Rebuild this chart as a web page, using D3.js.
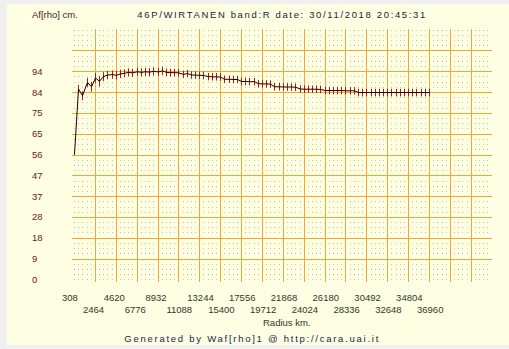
<!DOCTYPE html>
<html>
<head>
<meta charset="utf-8">
<script src="https://cdn.jsdelivr.net/npm/d3@7"></script>
<style>
  body { margin: 0; background: #f0f0f0; }
  svg { display: block; }
</style>
</head>
<body>
<svg id="chart" width="509" height="349"></svg>
<script>
// radius (km) of each aperture
const radius = [
  308, 739, 1170, 1602, 2033, 2464, 2895, 3326, 3758, 4189,
  4620, 5051, 5482, 5914, 6345, 6776, 7207, 7638, 8070, 8501,
  8932, 9363, 9794, 10226, 10657, 11088, 11519, 11950, 12382, 12813,
  13244, 13675, 14106, 14538, 14969, 15400, 15831, 16262, 16694, 17125,
  17556, 17987, 18418, 18850, 19281, 19712, 20143, 20574, 21006, 21437,
  21868, 22299, 22730, 23162, 23593, 24024, 24455, 24886, 25318, 25749,
  26180, 26611, 27042, 27474, 27905, 28336, 28767, 29198, 29630, 30061,
  30492, 30923, 31354, 31786, 32217, 32648, 33079, 33510, 33942, 34373,
  34804, 35235, 35666, 36098, 36529, 36960
];
// Af[rho] in cm
const afrho = [
  56.5, 86.0, 83.0, 89.0, 87.0, 91.0, 89.5, 91.6, 92.3, 92.5,
  92.2, 92.8, 93.1, 93.5, 93.3, 93.8, 93.5, 93.8, 93.6, 94.0,
  93.7, 94.2, 93.5, 93.4, 93.4, 93.3, 92.6, 93.0, 92.3, 92.3,
  92.2, 92.1, 91.6, 91.5, 91.5, 91.4, 90.4, 90.4, 90.3, 90.3,
  89.4, 89.4, 89.3, 89.3, 88.4, 88.3, 88.3, 88.2, 87.0, 87.0,
  86.9, 86.9, 86.9, 86.8, 86.0, 85.9, 85.9, 85.9, 85.9, 85.8,
  85.3, 85.3, 85.3, 85.3, 85.3, 85.2, 85.2, 85.2, 84.4, 84.4,
  84.4, 84.4, 84.4, 84.4, 84.4, 84.4, 84.4, 84.4, 84.4, 84.4,
  84.4, 84.4, 84.4, 84.4, 84.4, 84.4
];
// half length of error bars
const err = [
  0.4, 1.8, 2.0, 2.0, 2.2, 2.3, 2.4, 2.0, 1.9, 1.9,
  1.9, 1.9, 1.8, 1.8, 1.8, 1.8, 1.8, 1.8, 1.8, 1.8,
  1.8, 1.8, 1.7, 1.7, 1.7, 1.7, 1.7, 1.7, 1.7, 1.7,
  1.7, 1.7, 1.7, 1.7, 1.7, 1.7, 1.7, 1.7, 1.7, 1.7,
  1.7, 1.7, 1.7, 1.7, 1.7, 1.7, 1.7, 1.7, 1.7, 1.7,
  1.7, 1.7, 1.7, 1.7, 1.7, 1.7, 1.7, 1.7, 1.7, 1.7,
  1.7, 1.7, 1.7, 1.7, 1.7, 1.7, 1.7, 1.7, 1.7, 1.7,
  1.7, 1.7, 1.7, 1.7, 1.7, 1.7, 1.7, 1.7, 1.7, 1.7,
  1.7, 1.7, 1.7, 1.7, 1.7, 1.7
];

const xTicks = [308, 2464, 4620, 6776, 8932, 11088, 13244, 15400, 17556,
  19712, 21868, 24024, 26180, 28336, 30492, 32648, 34804, 36960];
const xGrid = [2464, 4620, 6776, 8932, 11088, 13244, 15400, 17556, 19712,
  21868, 24024, 26180, 28336, 30492, 32648, 34804, 36960, 39116, 41272];
const yTicks = [0, 9.4, 18.8, 28.2, 37.6, 47, 56.4, 65.8, 75.2, 84.6, 94];
const yTickLabels = ["0", "9", "18", "28", "37", "47", "56", "65", "75", "84", "94"];
const yGrid = [9.4, 18.8, 28.2, 37.6, 47, 56.4, 65.8, 75.2, 84.6, 94, 103.4];

const title = "46P/WIRTANEN band:R date: 30/11/2018 20:45:31";
const footer = "Generated by Waf[rho]1 @ http://cara.uai.it";

const svg = d3.select("#chart");

// panel
svg.append("rect")
  .attr("x", 7).attr("y", 4).attr("width", 502).attr("height", 341)
  .attr("fill", "#fefee2");

const x = d3.scaleLinear().domain([308, 36960]).range([74, 429]);
const y = d3.scaleLinear().domain([0, 94]).range([279.3, 71.3]);
const px = v => Math.round(v) + 0.5;

const xMax = 43428, yMax = 112.8;

// dotted minor grid
const dots = [];
const xs = d3.range(0, 101).map(i => 308 + i * 431.2);
const ys = d3.range(0, 49).map(j => j * 2.35);
xs.forEach((xv, i) => {
  ys.forEach((yv, j) => {
    if (i % 5 !== 0 || i === 0) if (j % 4 !== 0 || j === 0 || j === 48) dots.push([xv, yv]);
  });
});
svg.append("g")
  .selectAll("rect")
  .data(dots)
  .enter()
  .append("rect")
  .attr("x", d => Math.round(x(d[0])))
  .attr("y", d => Math.round(y(d[1])))
  .attr("width", 1).attr("height", 1)
  .attr("fill", "#c2c2a8");

// major grid
svg.append("g")
  .selectAll("line")
  .data(yGrid)
  .enter()
  .append("line")
  .attr("x1", 72).attr("x2", Math.round(x(xMax)))
  .attr("y1", d => px(y(d))).attr("y2", d => px(y(d)))
  .attr("stroke", "#f2a733").attr("stroke-width", 1);

svg.append("g")
  .selectAll("line")
  .data(xGrid)
  .enter()
  .append("line")
  .attr("x1", d => px(x(d))).attr("x2", d => px(x(d)))
  .attr("y1", Math.round(y(yMax)) - 1).attr("y2", 282)
  .attr("stroke", "#f2a733").attr("stroke-width", 1);

// error bars
svg.append("g")
  .selectAll("line")
  .data(radius)
  .enter()
  .append("line")
  .attr("x1", d => px(x(d))).attr("x2", d => px(x(d)))
  .attr("y1", (d, i) => y(afrho[i] + err[i]))
  .attr("y2", (d, i) => y(afrho[i] - err[i]))
  .attr("stroke", "#b81414").attr("stroke-width", 1);

// curve
const line = d3.line()
  .x((d, i) => px(x(radius[i])))
  .y((d, i) => y(afrho[i]));
svg.append("path")
  .datum(afrho)
  .attr("d", line)
  .attr("fill", "none")
  .attr("stroke", "#1a0000")
  .attr("stroke-width", 1);

const font = "'Liberation Sans', Arial, sans-serif";

// y labels
svg.append("g")
  .selectAll("text")
  .data(yTicks)
  .enter()
  .append("text")
  .attr("x", 32)
  .attr("y", d => y(d) + 3.5)
  .attr("font-family", font).attr("font-size", 9.5)
  .attr("fill", "#6a2020")
  .text((d, i) => yTickLabels[i]);

// x labels, alternating rows
svg.append("g")
  .selectAll("text")
  .data(xTicks)
  .enter()
  .append("text")
  .attr("x", d => x(d) - 12)
  .attr("y", (d, i) => i % 2 === 0 ? 301 : 312.5)
  .attr("font-family", font).attr("font-size", 9.5)
  .attr("fill", "#2c3a2c")
  .text(d => d);

svg.append("text")
  .attr("x", 263).attr("y", 326)
  .attr("font-family", font).attr("font-size", 9.5)
  .attr("fill", "#2c3a2c")
  .text("Radius km.");

svg.append("text")
  .attr("x", 32).attr("y", 17.5)
  .attr("font-family", font).attr("font-size", 9.5)
  .attr("fill", "#4a2020")
  .text("Af[rho] cm.");

svg.append("text")
  .attr("x", 137.3).attr("y", 17.5)
  .attr("font-family", font).attr("font-size", 9.5)
  .attr("textLength", 288).attr("lengthAdjust", "spacing")
  .attr("fill", "#1c1c40")
  .text(title);

svg.append("text")
  .attr("x", 124.3).attr("y", 341.5)
  .attr("font-family", font).attr("font-size", 9.5)
  .attr("textLength", 254).attr("lengthAdjust", "spacing")
  .attr("fill", "#1c1c50")
  .text(footer);
</script>
</body>
</html>
